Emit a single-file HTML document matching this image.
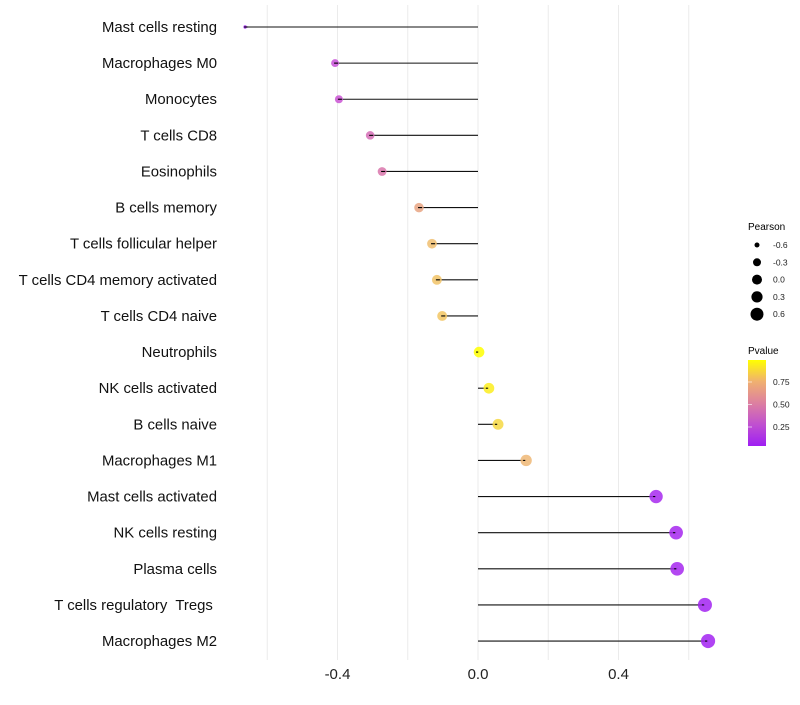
<!DOCTYPE html>
<html><head><meta charset="utf-8"><style>
body{margin:0;background:#fff;font-family:"Liberation Sans",sans-serif;}
text{white-space:pre;}
</style></head><body>
<svg id="chart" width="800" height="700" xmlns="http://www.w3.org/2000/svg" font-family="Liberation Sans, sans-serif">
<defs><linearGradient id="pg" x1="0" y1="1" x2="0" y2="0">
<stop offset="0" stop-color="#9f1ff3"/><stop offset="0.25" stop-color="#c050d0"/><stop offset="0.5" stop-color="#dd80a0"/><stop offset="0.75" stop-color="#f0b070"/><stop offset="1" stop-color="#ffff00"/></linearGradient></defs>
<g id="grid"></g><g id="marks"></g><g id="labels"></g>
<g>
<text x="748" y="230" font-size="10" fill="#000">Pearson</text>
<g id="sizeleg"></g>
<text x="748" y="354" font-size="10" fill="#000">Pvalue</text>
<rect x="748" y="360" width="18" height="86" fill="url(#pg)"/>
<g id="colleg"></g>
</g>
</svg>
<script>
const categories=["Mast cells resting","Macrophages M0","Monocytes","T cells CD8","Eosinophils","B cells memory","T cells follicular helper","T cells CD4 memory activated","T cells CD4 naive","Neutrophils","NK cells activated","B cells naive","Macrophages M1","Mast cells activated","NK cells resting","Plasma cells","T cells regulatory  Tregs ","Macrophages M2"];
const pearson=[-0.663,-0.407,-0.396,-0.307,-0.273,-0.168,-0.131,-0.117,-0.102,0.003,0.031,0.057,0.137,0.507,0.564,0.567,0.646,0.655];
const pvalue=[0.0,0.25,0.27,0.4,0.45,0.65,0.75,0.77,0.78,1.0,0.93,0.85,0.72,0.05,0.04,0.04,0.02,0.02];
const xTicks=[-0.4,0.0,0.4];
const gridVals=[-0.6,-0.4,-0.2,0,0.2,0.4,0.6];
const sizeLegend=[-0.6,-0.3,0.0,0.3,0.6];
const colLegend=[0.25,0.5,0.75];
const NS="http://www.w3.org/2000/svg";
const x=v=>478+v*351.25;
const y=i=>27+i*36.12;
function r(v){const pts=[[-0.7,1.4],[-0.4,4],[0,5.3],[0.7,7.2]];for(let k=0;k<pts.length-1;k++){const[a,ra]=pts[k],[b,rb]=pts[k+1];if(v<=b||k===pts.length-2){return ra+(rb-ra)*(v-a)/(b-a);}}}
const cy=p=>449.5-p*90;
function lerp(a,b,t){return Math.round(a+(b-a)*t);}
const stops=[[0,[159,31,243]],[0.25,[200,80,216]],[0.5,[221,128,160]],[0.75,[240,190,112]],[1,[255,255,0]]];
function col(p){for(let k=0;k<stops.length-1;k++){const[a,ca]=stops[k],[b,cb]=stops[k+1];if(p<=b){const t=(p-a)/(b-a);return `rgb(${lerp(ca[0],cb[0],t)},${lerp(ca[1],cb[1],t)},${lerp(ca[2],cb[2],t)})`;}}return "rgb(255,255,0)";}
function mk(tag,attrs,parent){const e=document.createElementNS(NS,tag);for(const k in attrs)e.setAttribute(k,attrs[k]);document.getElementById(parent).appendChild(e);return e;}
gridVals.forEach(g=>{const l=mk("line",{x1:x(g),x2:x(g),y1:5,y2:660,stroke:"#ebebeb","stroke-width":1},"grid");

});
xTicks.forEach(t=>{const e=mk("text",{x:x(t),y:679,"font-size":15,"text-anchor":"middle",fill:"#222"},"labels");e.textContent=t.toFixed(1);

});
categories.forEach((c,i)=>{
const t=mk("text",{x:217,y:y(i)+5,"font-size":14.9,"text-anchor":"end",fill:"#111"},"labels");t.textContent=c;


const l=mk("line",{x1:x(0),x2:x(pearson[i]),y1:y(i),y2:y(i),stroke:"#111","stroke-width":1.1},"marks");


const d=mk("circle",{cx:x(pearson[i]),cy:y(i),r:r(pearson[i]),fill:col(pvalue[i]),"fill-opacity":0.85},"marks");


const dd=mk("line",{x1:x(pearson[i])-1,x2:x(pearson[i])+3*Math.sign(-pearson[i]||1),y1:y(i),y2:y(i),stroke:"#000","stroke-width":1.1},"marks");


});
sizeLegend.forEach((s,k)=>{const yy=245+k*17.3;
const c=mk("circle",{cx:757,cy:yy,r:[2.5,4,5,5.6,6.5][k],fill:"#000"},"sizeleg");


const t=mk("text",{x:773,y:yy+3,"font-size":8.5,fill:"#222"},"sizeleg");t.textContent=s.toFixed(1);

});
colLegend.forEach(p=>{const yy=cy(p);
const l=mk("line",{x1:748,x2:752,y1:yy,y2:yy,stroke:"#fff","stroke-width":0.6},"colleg");


const t=mk("text",{x:773,y:yy+3,"font-size":8.5,fill:"#222"},"colleg");t.textContent=p.toFixed(2);

});
</script>
</body></html>
